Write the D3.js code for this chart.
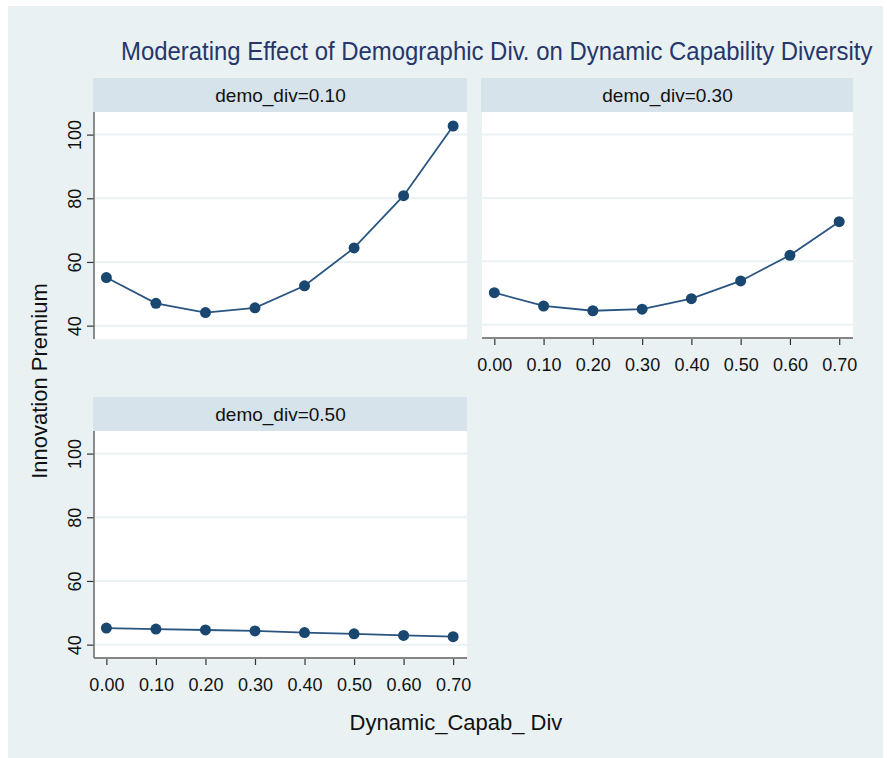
<!DOCTYPE html>
<html>
<head>
<meta charset="utf-8">
<script src="https://cdn.jsdelivr.net/npm/d3@7"></script>
<style>
  html, body { margin: 0; padding: 0; background: #ffffff; }
  svg { display: block; font-family: "Liberation Sans", Arial, Helvetica, sans-serif; }
</style>
</head>
<body>
<svg id="chart" width="887" height="758"></svg>
<script>
// Dynamic capability diversity levels (x axis)
const capabDiv = [0.00, 0.10, 0.20, 0.30, 0.40, 0.50, 0.60, 0.70];
// Demographic diversity levels (one panel each)
const demoLevels = ["0.10", "0.30", "0.50"];
// Predicted innovation premium per panel
const premiumDemo010 = [55.1, 47.0, 44.1, 45.6, 52.5, 64.4, 80.8, 102.7];
const premiumDemo030 = [50.1, 45.9, 44.4, 44.9, 48.2, 53.8, 61.9, 72.5];
const premiumDemo050 = [45.2, 44.9, 44.6, 44.3, 43.8, 43.4, 42.9, 42.5];
// Axis ticks
const yTicks = [40, 60, 80, 100];
const xTicks = capabDiv;

const titleText = "Moderating Effect of Demographic Div. on Dynamic Capability Diversity";
const xTitle = "Dynamic_Capab_ Div";
const yTitle = "Innovation Premium";

const series = [premiumDemo010, premiumDemo030, premiumDemo050];

const navy = "#1a476f";
const bgColor = "#e9f1f3";
const stripColor = "#d7e3ea";
const gridColor = "#eaf2f3";

const svg = d3.select("#chart");

// graph region
svg.append("rect").attr("x", 8).attr("y", 6).attr("width", 875).attr("height", 752)
  .attr("fill", bgColor);

// title: narrow lettering, fitted to the available width
const titleWidth = 752, titleSize = 26;
const title = svg.append("text")
  .attr("x", 0).attr("y", 0)
  .attr("font-size", titleSize)
  .attr("fill", "#27366a")
  .text(titleText);
const natural = title.node().getComputedTextLength();
const sx = Math.min(1, titleWidth / natural);
title.attr("transform", `translate(121,60) scale(${sx},1)`);

// panel layout: plot-area boxes
const panels = [
  { x0: 94, x1: 467, top: 112, bottom: 339, leftAxis: true, bottomAxis: false },
  { x0: 482, x1: 853, top: 112, bottom: 338, leftAxis: false, bottomAxis: true },
  { x0: 94, x1: 467, top: 431, bottom: 658, leftAxis: true, bottomAxis: true }
];
const stripH = 34;

const yDomain = [35.8, 107.1];
const xDomain = [-0.025, 0.728];

panels.forEach((p, i) => {
  const g = svg.append("g");
  const x = d3.scaleLinear().domain(xDomain).range([p.x0, p.x1]);
  const y = d3.scaleLinear().domain(yDomain).range([p.bottom, p.top]);

  // strip
  g.append("rect")
    .attr("x", p.x0 - 1).attr("y", p.top - stripH)
    .attr("width", p.x1 - p.x0 + 1).attr("height", stripH)
    .attr("fill", stripColor);
  g.append("text")
    .attr("x", (p.x0 + p.x1) / 2).attr("y", p.top - 10)
    .attr("text-anchor", "middle")
    .attr("font-size", 19)
    .attr("fill", "#111")
    .text("demo_div=" + demoLevels[i]);

  // plot area
  g.append("rect")
    .attr("x", p.x0).attr("y", p.top)
    .attr("width", p.x1 - p.x0).attr("height", p.bottom - p.top)
    .attr("fill", "#ffffff");

  // gridlines
  g.selectAll("line.grid").data(yTicks).enter().append("line")
    .attr("class", "grid")
    .attr("x1", p.x0).attr("x2", p.x1)
    .attr("y1", d => y(d)).attr("y2", d => y(d))
    .attr("stroke", gridColor).attr("stroke-width", 2);

  // y axis
  if (p.leftAxis) {
    const ya = g.append("g")
      .attr("transform", `translate(${p.x0},0)`)
      .call(d3.axisLeft(y).tickValues(yTicks).tickSize(7).tickFormat(d3.format("d")));
    ya.select(".domain").remove();
    ya.append("line")
      .attr("x1", 0).attr("x2", 0).attr("y1", p.top).attr("y2", p.bottom)
      .attr("stroke", "#707070").attr("stroke-width", 1.6);
    ya.selectAll(".tick line").attr("stroke", "#333").attr("stroke-width", 1.2);
    ya.selectAll(".tick text")
      .attr("x", null).attr("dy", null)
      .attr("text-anchor", "middle")
      .attr("transform", "translate(-13,0) rotate(-90)")
      .attr("font-size", 18)
      .attr("font-family", "'Liberation Sans', Arial, sans-serif")
      .attr("fill", "#111");
  }

  // x axis
  if (p.bottomAxis) {
    const xa = g.append("g")
      .attr("transform", `translate(0,${p.bottom})`)
      .call(d3.axisBottom(x).tickValues(xTicks).tickSize(7).tickPadding(13)
        .tickFormat(d3.format(".2f")));
    xa.select(".domain").remove();
    xa.append("line")
      .attr("x1", p.x0).attr("x2", p.x1).attr("y1", 0).attr("y2", 0)
      .attr("stroke", "#858585").attr("stroke-width", 2.2);
    xa.selectAll(".tick line").attr("stroke", "#333").attr("stroke-width", 1.2);
    xa.selectAll(".tick text")
      .attr("font-size", 18)
      .attr("font-family", "'Liberation Sans', Arial, sans-serif")
      .attr("fill", "#111");
  }

  // connected line + markers
  const pts = capabDiv.map((c, k) => [c, series[i][k]]);
  g.append("path")
    .datum(pts)
    .attr("fill", "none")
    .attr("stroke", "#2a5580")
    .attr("stroke-width", 1.8)
    .attr("d", d3.line().x(d => x(d[0])).y(d => y(d[1])));
  g.selectAll("circle").data(pts).enter().append("circle")
    .attr("cx", d => x(d[0])).attr("cy", d => y(d[1]))
    .attr("r", 5.5)
    .attr("fill", navy);
});

// axis titles
svg.append("text")
  .attr("x", 456).attr("y", 730)
  .attr("text-anchor", "middle")
  .attr("font-size", 22)
  .attr("fill", "#111")
  .text(xTitle);

svg.append("text")
  .attr("transform", "translate(47,381) rotate(-90)")
  .attr("text-anchor", "middle")
  .attr("font-size", 22)
  .attr("fill", "#111")
  .text(yTitle);
</script>
</body>
</html>
